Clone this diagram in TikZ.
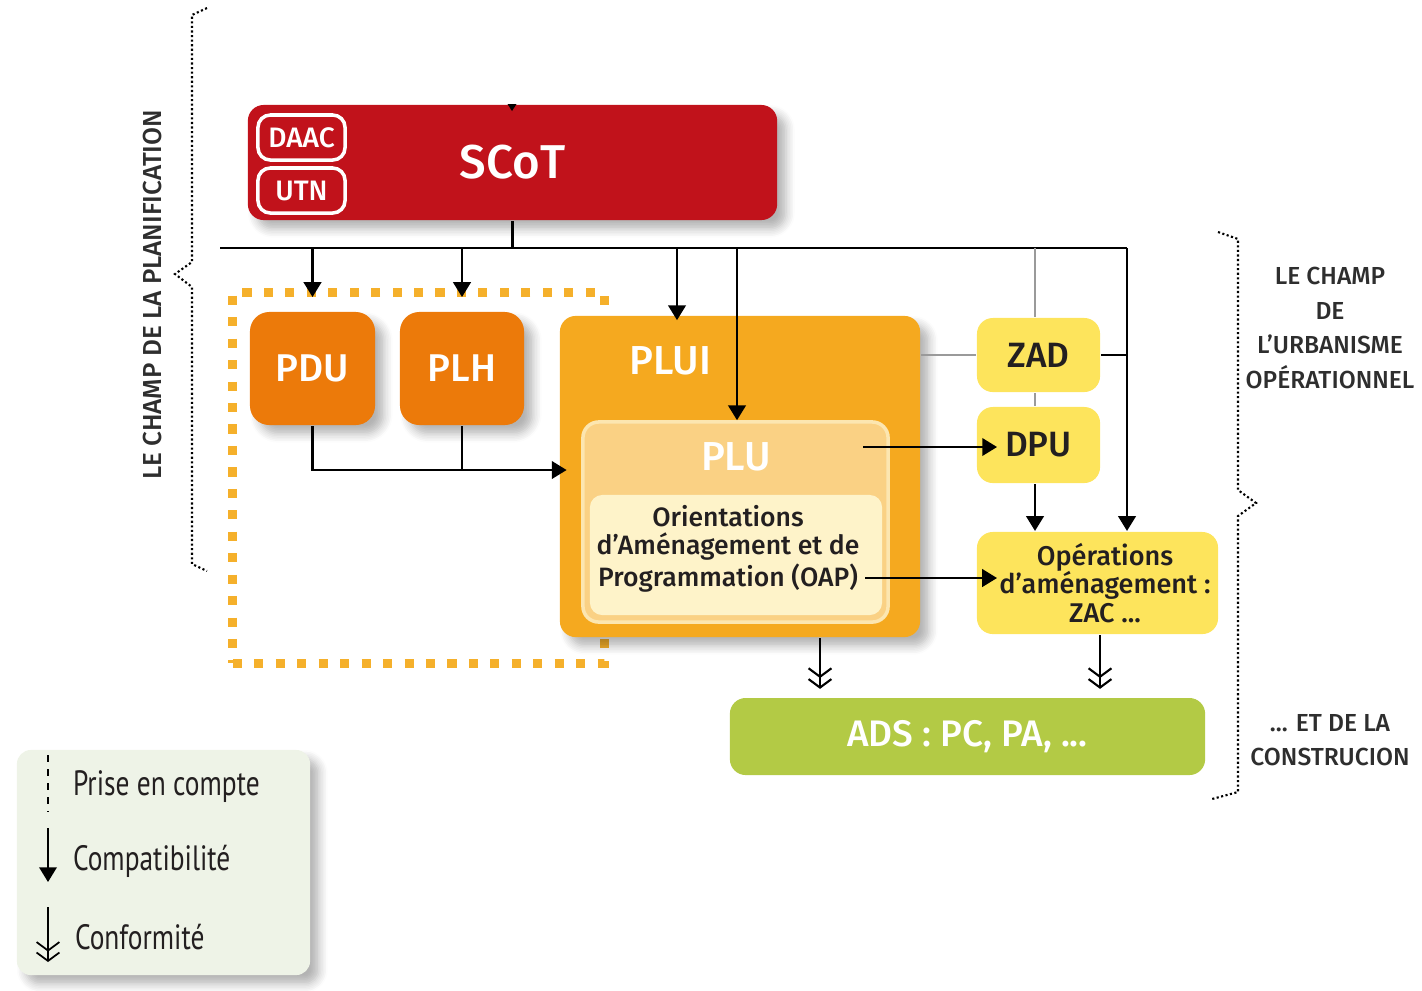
\documentclass[tikz,border=0pt]{standalone}
\usepackage{fontspec}
\setmainfont{Fira Sans Medium}
\newfontfamily\condfont{PT Sans}[FakeStretch=0.78]
\usetikzlibrary{arrows.meta,shadows.blur}
\definecolor{scotred}{HTML}{C1121B}
\definecolor{pduorange}{HTML}{EC7A0A}
\definecolor{pluiorange}{HTML}{F5A91F}
\definecolor{plufill}{HTML}{FAD184}
\definecolor{pluedge}{HTML}{FCE6B0}
\definecolor{oapfill}{HTML}{FEF3C9}
\definecolor{zadyellow}{HTML}{FDE45C}
\definecolor{adsgreen}{HTML}{B3CA45}
\definecolor{legendfill}{HTML}{EEF3E7}
\definecolor{dashorange}{HTML}{F5B02B}
\definecolor{textdark}{HTML}{231F20}
\definecolor{labgray}{HTML}{2E2E2E}
\definecolor{linegray}{HTML}{9A9A9A}
\begin{document}
\begin{tikzpicture}[x=0.01cm,y=-0.01cm,
  line width=0.6pt,
  comp/.style={-{Triangle[length=4.2pt,width=5pt]}},
  conf/.style={-{Straight Barb[length=2.4pt,width=6.5pt] Straight Barb[length=2.4pt,width=6.5pt]}},
  shad/.style={blur shadow={shadow xshift=2.5pt,shadow yshift=-2.5pt,shadow blur steps=6,shadow blur radius=2.5pt,shadow opacity=30}},
  box/.style={rounded corners=4.5pt,inner sep=0pt,align=center},
  tag/.style={box,rounded corners=3.5pt,draw=white,line width=1pt,fill=scotred,text=white,
    minimum width=0.87cm,minimum height=0.45cm,font=\fontsize{8}{10}\selectfont},
  side/.style={text=labgray,align=center,font=\fontsize{7}{9.8}\selectfont},
  legtext/.style={anchor=west,inner sep=0pt,text=textdark,font=\condfont\fontsize{10}{12}\selectfont},
  brace/.style={line width=0.6pt,dash pattern=on 0.6pt off 0.7pt}
]
\useasboundingbox (0,0) rectangle (1422,990);

% dashed group
\node[draw=dashorange,line width=2.6pt,dash pattern=on 2.6pt off 3.5pt,
  minimum width=3.71cm,minimum height=3.70cm,inner sep=0pt] (grp) at (418.5,478) {};

% SCoT
\node[box,shad,fill=scotred,minimum width=5.29cm,minimum height=1.15cm,
  text=white,font=\fontsize{13.5}{16}\selectfont] (scot) at (512.5,162.5) {SCoT};
\node[tag] (daac) at (301.5,137.5) {DAAC};
\node[tag] (utn) at (301.5,190.5) {UTN};
\fill (507.5,104) -- (516.5,104) -- (512,111) -- cycle;

% PDU / PLH
\node[box,shad,rounded corners=5.5pt,fill=pduorange,minimum width=1.25cm,minimum height=1.13cm,
  text=white,font=\fontsize{11}{13}\selectfont] (pdu) at (312.5,368.5) {PDU};
\node[box,shad,rounded corners=5.5pt,fill=pduorange,minimum width=1.24cm,minimum height=1.13cm,
  text=white,font=\fontsize{11}{13}\selectfont] (plh) at (462,368.5) {PLH};

% PLUI / PLU / OAP
\node[box,shad,fill=pluiorange,minimum width=3.60cm,minimum height=3.21cm] (plui) at (740,476.5) {};
\node[text=white,font=\fontsize{11.5}{14}\selectfont] (pluitext) at (670,361) {PLUI};
\node[box,fill=plufill,draw=pluedge,line width=1pt,minimum width=3.05cm,minimum height=2.00cm] (plu) at (735.5,522) {};
\node[text=white,font=\fontsize{11.5}{14}\selectfont] (plutext) at (736,457) {PLU};
\node[box,rounded corners=3.5pt,fill=oapfill,minimum width=2.92cm,minimum height=1.20cm] (oap) at (736,555) {};
\node[align=center,text=textdark,font=\fontsize{7.55}{8}\selectfont] (oaptext) at (728,549)
  {Orientations\\d’Aménagement et de\\Programmation (OAP)};

% ZAD / DPU / operations
\node[box,fill=zadyellow,minimum width=1.23cm,minimum height=0.74cm,
  text=textdark,font=\fontsize{10}{12}\selectfont] (zad) at (1038.5,355) {ZAD};
\node[box,fill=zadyellow,minimum width=1.23cm,minimum height=0.76cm,
  text=textdark,font=\fontsize{10}{12}\selectfont] (dpu) at (1038.5,445) {DPU};
\node[box,fill=zadyellow,minimum width=2.41cm,minimum height=1.02cm] (ops) at (1097.5,583) {};
\node[align=center,text=textdark,font=\fontsize{7.7}{8}\selectfont] (opstext) at (1105,583)
  {Opérations\\d’aménagement :\\ZAC ...};

% ADS
\node[box,fill=adsgreen,minimum width=4.75cm,minimum height=0.77cm,
  text=white,font=\fontsize{10.5}{12}\selectfont] (ads) at (967.5,736.5) {ADS : PC, PA, ...};

% connectors
\coordinate (busL) at (220,248);
\coordinate (busR) at (1127,248);
\coordinate (dashtop) at (0,297);
\coordinate (xplui) at (677,0);
\coordinate (xplu) at (737,0);
\coordinate (xzad) at (1035,0);
\coordinate (join) at (0,470);
\coordinate (pluout) at (863,447);
\coordinate (oapout) at (865,578);
\coordinate (xc1) at (820,0);
\coordinate (xc2) at (1100,0);

\draw (scot.south) -- (scot.south |- busL);
\draw (busL) -- (busR);
\draw[comp] (pdu.north |- busL) -- (pdu.north |- dashtop);
\draw[comp] (plh.north |- busL) -- (plh.north |- dashtop);
\draw[comp,shorten >=-1.5pt] (xplui |- busL) -- (xplui |- plui.north);
\draw[comp] (xplu |- busL) -- (xplu |- plu.north);
\draw[linegray] (xzad |- busL) -- (xzad |- zad.north);
\draw[comp] (busR) -- (busR |- ops.north);
\draw (zad.east) -- (zad.east -| busR);
\draw[linegray] (plui.east |- zad.west) -- (zad.west);
\draw[linegray] (xzad |- zad.south) -- (xzad |- dpu.north);
\draw[comp] (xzad |- dpu.south) -- (xzad |- ops.north);
\draw[comp,shorten >=-2.2pt] (pdu.south) -- (pdu.south |- join) -- (plui.west |- join);
\draw (plh.south) -- (plh.south |- join);
\draw[comp] (pluout) -- ([xshift=6pt]dpu.west |- pluout);
\draw[comp] (oapout) -- ([xshift=6pt]ops.west |- oapout);
\draw[conf,shorten >=2.3pt] (xc1 |- plui.south) -- (xc1 |- ads.north);
\draw[conf,shorten >=2.3pt] (xc2 |- ops.south) -- (xc2 |- ads.north);

% braces and side labels
\draw[brace] (207,8) -- (192,15) -- (192,262) -- (175,274) -- (192,287) -- (192,564) -- (207,571);
\node[side,rotate=90,font=\fontsize{7.4}{9}\selectfont] (planif) at (153,295) {LE CHAMP DE LA PLANIFICATION};
\draw[brace] (1218,232) -- (1238,239) -- (1238,490) -- (1256,503) -- (1238,516) -- (1238,792) -- (1212,799);
\node[side] (urba) at (1330,328) {LE CHAMP\\DE\\L’URBANISME\\OPÉRATIONNEL};
\node[side] (constr) at (1330,740) {... ET DE LA\\CONSTRUCION};

% legend
\node[box,shad,rounded corners=4pt,fill=legendfill,minimum width=2.93cm,minimum height=2.25cm] (legend) at (163.5,862.5) {};
\coordinate (l1a) at (48,755);
\coordinate (l1b) at (48,812);
\coordinate (l2a) at (48,828);
\coordinate (l2b) at (48,882);
\coordinate (l3a) at (48,907);
\coordinate (l3b) at (48,962);
\draw[line width=0.5pt,dash pattern=on 2pt off 2pt] (l1a) -- (l1b);
\draw[comp,line width=0.5pt] (l2a) -- (l2b);
\draw[conf,line width=0.5pt] (l3a) -- (l3b);
\node[legtext] (leg1) at (72,787) {Prise en compte};
\node[legtext] (leg2) at (72,861) {Compatibilité};
\node[legtext] (leg3) at (74,937) {Conformité};
\end{tikzpicture}
\end{document}
